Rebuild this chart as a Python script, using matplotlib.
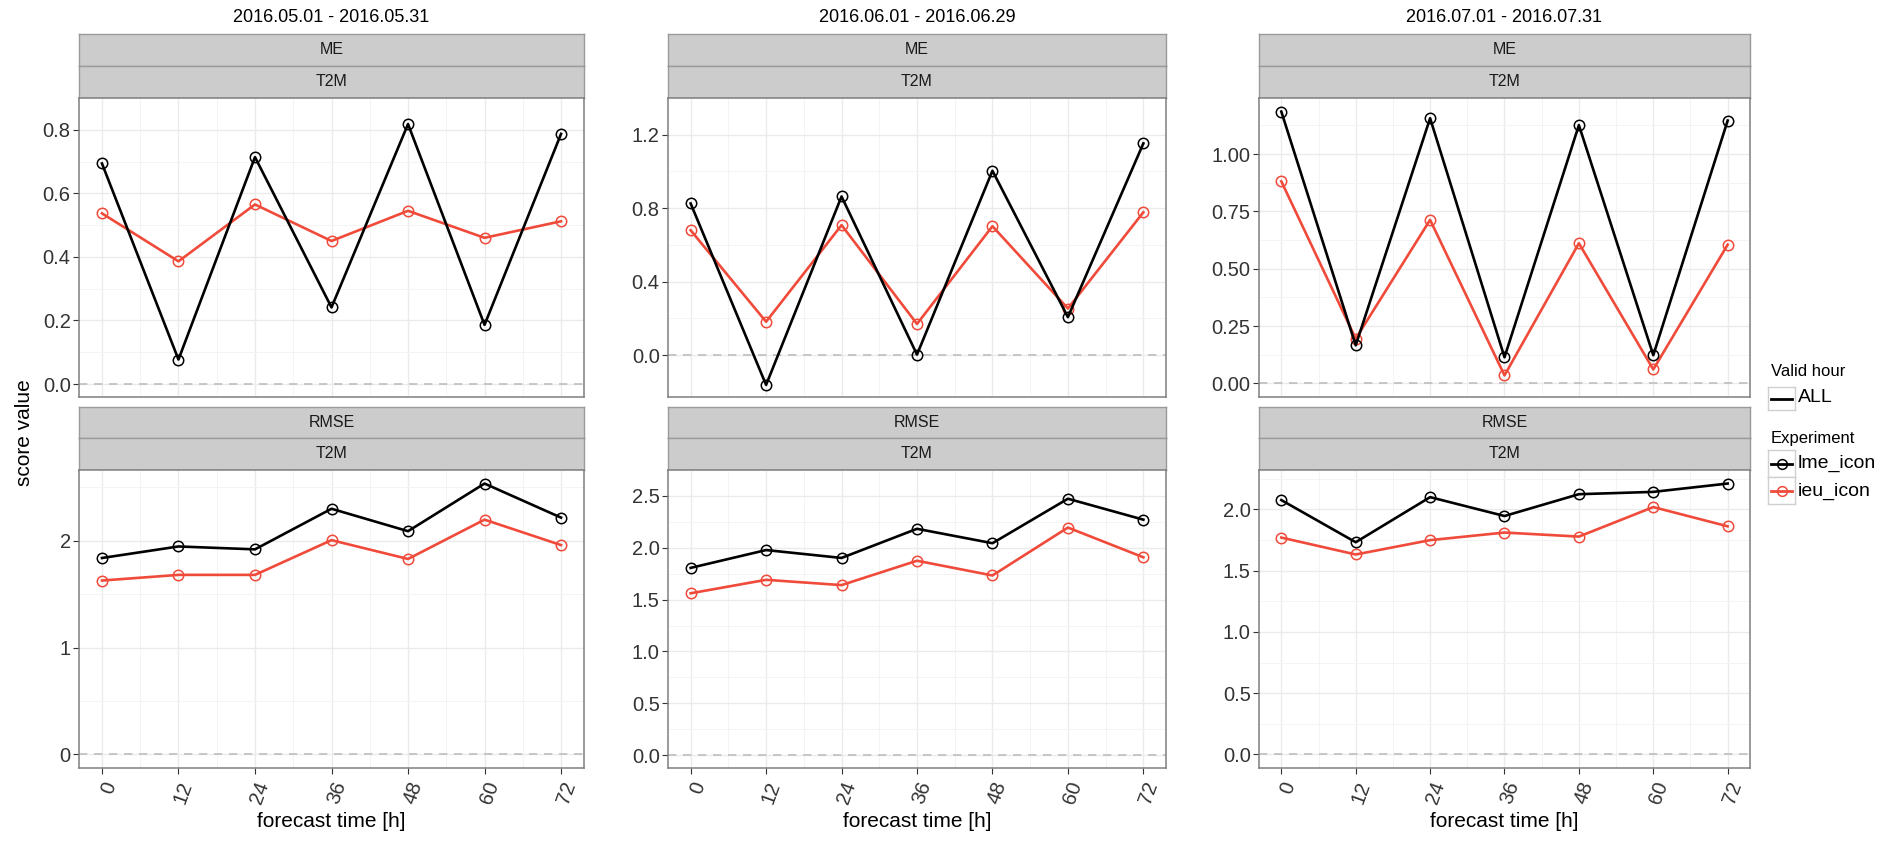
import matplotlib.pyplot as plt
import numpy as np

plt.rcParams['font.family'] = ['Liberation Sans', 'DejaVu Sans']

hours = [0, 12, 24, 36, 48, 60, 72]
periods = ['2016.05.01 - 2016.05.31', '2016.06.01 - 2016.06.29', '2016.07.01 - 2016.07.31']
experiments = ['lme_icon', 'ieu_icon']

# ME, T2M
me_lme = [
    [0.694, 0.077, 0.714, 0.241, 0.818, 0.186, 0.787],
    [0.826, -0.162, 0.864, 0.003, 1.004, 0.207, 1.153],
    [1.185, 0.166, 1.156, 0.114, 1.126, 0.123, 1.146],
]
me_ieu = [
    [0.537, 0.386, 0.565, 0.450, 0.545, 0.460, 0.512],
    [0.680, 0.182, 0.708, 0.170, 0.702, 0.254, 0.778],
    [0.881, 0.195, 0.713, 0.035, 0.611, 0.061, 0.605],
]
# RMSE, T2M
rmse_lme = [
    [1.839, 1.947, 1.920, 2.300, 2.090, 2.536, 2.217],
    [1.806, 1.978, 1.902, 2.183, 2.044, 2.473, 2.271],
    [2.076, 1.732, 2.100, 1.946, 2.124, 2.143, 2.211],
]
rmse_ieu = [
    [1.628, 1.681, 1.681, 2.006, 1.830, 2.198, 1.960],
    [1.561, 1.691, 1.640, 1.875, 1.733, 2.195, 1.908],
    [1.770, 1.632, 1.749, 1.811, 1.778, 2.019, 1.862],
]

me_ticks = [[0, 0.2, 0.4, 0.6, 0.8], [0, 0.4, 0.8, 1.2], [0, 0.25, 0.5, 0.75, 1.0]]
me_fmt = ['%.1f', '%.1f', '%.2f']
rmse_ticks = [[0, 1, 2], [0, 0.5, 1.0, 1.5, 2.0, 2.5], [0, 0.5, 1.0, 1.5, 2.0]]
rmse_fmt = ['%d', '%.1f', '%.1f']

W, H = 1895, 842
fig = plt.figure(figsize=(W / 100, H / 100), dpi=100)

BLACK = '#000000'
RED = '#F04A3A'


def px_axes(x0, y0, x1, y1):
    return fig.add_axes([x0 / W, 1 - y1 / H, (x1 - x0) / W, (y1 - y0) / H])


def strip(x0, x1, y0, y1, label):
    s = px_axes(x0, y0, x1, y1)
    s.set_facecolor('#CCCCCC')
    s.set_xticks([])
    s.set_yticks([])
    for sp in s.spines.values():
        sp.set_color('#9A9A9A')
        sp.set_linewidth(1.0)
    s.text(0.5, 0.5, label, ha='center', va='center', fontsize=11.5, color='#1A1A1A',
           transform=s.transAxes)


def panel(ax, lme, ieu, ticks, fmt, bottom):
    ax.grid(True, which='major', color='#EBEBEB', linewidth=1.0)
    ax.grid(True, which='minor', color='#F4F4F4', linewidth=0.7)
    ax.set_axisbelow(True)
    ax.axhline(0, color='#BEBEBE', linestyle=(0, (5, 4)), linewidth=1.2, zorder=1)
    ax.plot(hours, ieu, color=RED, linewidth=1.9, marker='o', markersize=7.5,
            markerfacecolor='none', markeredgewidth=1.1, markeredgecolor=RED, zorder=3)
    ax.plot(hours, lme, color=BLACK, linewidth=1.9, marker='o', markersize=7.5,
            markerfacecolor='none', markeredgewidth=1.1, zorder=4)
    vals = np.array(lme + ieu + [0.0])
    lo, hi = vals.min(), vals.max()
    pad = (hi - lo) * 0.05
    ax.set_ylim(lo - pad, hi + pad)
    ax.set_xlim(-3.6, 75.6)
    ax.set_xticks(hours)
    ax.set_xticks([6, 18, 30, 42, 54, 66], minor=True)
    ax.set_yticks(ticks)
    step = ticks[1] - ticks[0]
    ax.set_yticks([t + step / 2 for t in ticks], minor=True)
    ax.set_yticklabels([fmt % t for t in ticks], fontsize=14.5, color='#333333')
    ax.tick_params(axis='both', which='minor', length=0)
    ax.tick_params(axis='y', which='major', length=4, color='#333333', pad=2)
    if bottom:
        ax.set_xticklabels([str(h) for h in hours], fontsize=14.5, color='#333333',
                           rotation=70, ha='right', va='top', rotation_mode='anchor')
        ax.tick_params(axis='x', which='major', length=4, color='#333333', pad=4)
        ax.set_xlabel('forecast time [h]', fontsize=15, color='#000000', labelpad=4)
    else:
        ax.set_xticklabels([])
        ax.tick_params(axis='x', which='major', length=0)
    for sp in ax.spines.values():
        sp.set_color('#7F7F7F')
        sp.set_linewidth(1.1)


cols = [(79, 584), (668, 1166), (1259, 1750)]
for i, (x0, x1) in enumerate(cols):
    fig.text((x0 + x1) / 2 / W, 1 - 18 / H, periods[i], ha='center', va='center',
             fontsize=13, color='#000000')
    strip(x0, x1, 34, 66, 'ME')
    strip(x0, x1, 66, 98, 'T2M')
    ax1 = px_axes(x0, 98, x1, 397)
    panel(ax1, me_lme[i], me_ieu[i], me_ticks[i], me_fmt[i], False)
    strip(x0, x1, 407, 438, 'RMSE')
    strip(x0, x1, 438, 470, 'T2M')
    ax2 = px_axes(x0, 470, x1, 768)
    panel(ax2, rmse_lme[i], rmse_ieu[i], rmse_ticks[i], rmse_fmt[i], True)

fig.text(25 / W, 1 - 433 / H, 'score value', rotation=90, ha='center', va='center',
         fontsize=15, color='#000000')


# legends
def key(y0, y1, color, marker):
    k = px_axes(1768, y0, 1795, y1)
    k.set_xticks([])
    k.set_yticks([])
    for sp in k.spines.values():
        sp.set_color('#D0D0D0')
        sp.set_linewidth(1.0)
    k.set_xlim(0, 1)
    k.set_ylim(0, 1)
    k.plot([0.1, 0.9], [0.5, 0.5], color=color, linewidth=2.0)
    if marker:
        k.plot([0.5], [0.5], color=color, marker='o', markersize=7,
               markerfacecolor='none', markeredgewidth=1.1)


fig.text(1771 / W, 1 - 372 / H, 'Valid hour', ha='left', va='center', fontsize=12)
key(387, 410, BLACK, False)
fig.text(1798 / W, 1 - 398 / H, 'ALL', ha='left', va='center', fontsize=14)

fig.text(1771 / W, 1 - 439 / H, 'Experiment', ha='left', va='center', fontsize=12)
key(450, 477, BLACK, True)
fig.text(1798 / W, 1 - 463 / H, experiments[0], ha='left', va='center', fontsize=14)
key(477, 504, RED, True)
fig.text(1798 / W, 1 - 491 / H, experiments[1], ha='left', va='center', fontsize=14)

fig.savefig('out.png', dpi=100)
